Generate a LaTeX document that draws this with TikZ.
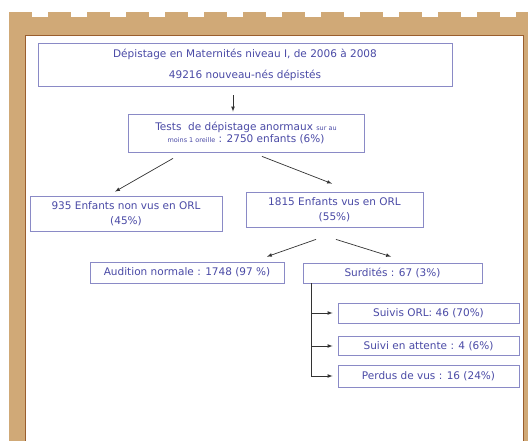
\documentclass[tikz,border=0pt]{standalone}
\usepackage{fontspec}
\setmainfont{DejaVu Sans}
\usepackage{xcolor}
\usepackage{tikz}

\definecolor{sable}{HTML}{D0A977}
\definecolor{brun}{HTML}{9A5E2E}
\definecolor{cadre}{HTML}{8A8AC6}
\definecolor{encre}{HTML}{4A4AA6}

\begin{document}
\begin{tikzpicture}[
  x=1pt, y=-1pt,
  box/.style={draw=cadre,line width=0.8pt,fill=white,text=encre,
    font=\fontsize{10.5}{15}\selectfont,align=center,inner sep=0pt},
  conn/.style={draw=black!80,line width=0.7pt,-latex}
  ]

\useasboundingbox (0,0) rectangle (528,441);

% cadre
\fill[sable] (9,17) rectangle (528,441);
\foreach \i in {0,...,13}
  \fill[sable] (9+39*\i,12) rectangle ({min(32+39*\i,528)},17);
\fill[white] (25,35) rectangle (523,441);
\draw[brun,line width=0.8pt] (25,441) -- (25,35) -- (523,35) -- (523,441);

\node[box,minimum width=414pt,minimum height=43pt] (depist) at (245,64.5)
  {Dépistage en Maternités niveau I, de 2006 à 2008\\[6pt]
   49216 nouveau-nés dépistés};
\node[box,minimum width=236pt,minimum height=38pt] (tests) at (246,133)
  {Tests\ \ de dépistage anormaux {\fontsize{6.5}{8}\selectfont sur au}\\[-3pt]
   {\fontsize{6.5}{8}\selectfont moins 1 oreille} : 2750 enfants (6\%)};

\node[box,minimum width=192pt,minimum height=35pt] (nonvus) at (126,213.5)
  {935 Enfants non vus en ORL\\ (45\%)};
\node[box,minimum width=177pt,minimum height=35pt] (vus) at (334.5,209.5)
  {1815 Enfants vus en ORL\\ (55\%)};

\node[box,minimum width=194pt,minimum height=21pt] (normale) at (187,272.5)
  {Audition normale : 1748 (97 \%)};
\node[box,minimum width=179pt,minimum height=20pt] (surdite) at (392.5,273)
  {Surdités : 67 (3\%)};

\node[box,minimum width=181pt,minimum height=20pt] (suivis) at (428.5,313)
  {Suivis ORL: 46 (70\%)};
\node[box,minimum width=181pt,minimum height=19pt] (attente) at (428.5,346)
  {Suivi en attente : 4 (6\%)};
\node[box,minimum width=181pt,minimum height=22pt] (perdus) at (428.5,376)
  {Perdus de vus : 16 (24\%)};

\draw[conn] ([xshift=-12pt,yshift=-9pt]depist.south) -- ([xshift=-13pt,yshift=2pt]tests.north);
\draw[conn] ([xshift=-73pt,yshift=-6pt]tests.south) -- ([xshift=-11pt,yshift=4pt]nonvus.north);
\draw[conn] ([xshift=16pt,yshift=-4pt]tests.south) -- ([xshift=-2.5pt,yshift=8pt]vus.north);
\draw[conn] ([xshift=-18.5pt,yshift=-12pt]vus.south) -- ([xshift=80pt,yshift=5pt]normale.north);
\draw[conn] ([xshift=1.5pt,yshift=-12pt]vus.south) -- ([xshift=-1.5pt,yshift=6pt]surdite.north);

\coordinate (tronc) at ([xshift=9pt]surdite.south west);
\draw[conn] (tronc) |- ([xshift=-5pt]suivis.west);
\draw[conn] (tronc) |- ([xshift=-5pt]attente.west);
\draw[conn] (tronc) |- ([xshift=-5pt]perdus.west);

\end{tikzpicture}
\end{document}
